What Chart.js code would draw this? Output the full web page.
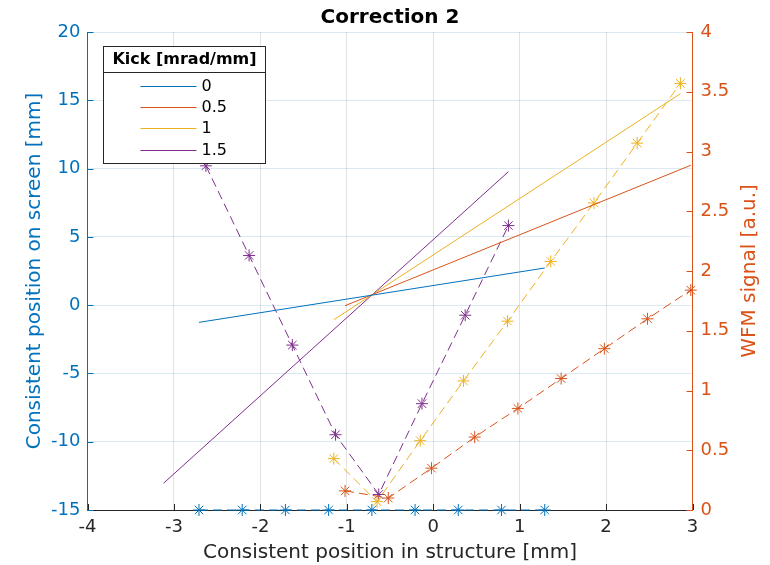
<!DOCTYPE html>
<html>
<head>
<meta charset="utf-8">
<title>Correction 2</title>
<script src="https://cdn.jsdelivr.net/npm/chart.js@4.4.1/dist/chart.umd.min.js"></script>
<style>
  html, body { margin: 0; padding: 0; background: #fff; }
  #wrap { width: 770px; height: 565px; }
</style>
</head>
<body>
<div id="wrap"><canvas id="correction"></canvas></div>
<script>
const kickLabels = ["0", "0.5", "1", "1.5"];
const kickColors = ["#0072BD", "#D95319", "#EDB120", "#7E2F8E"];

// linear fits of screen position (left axis), one per kick
const fitStartX = [-2.71, -1.02, -1.15, -3.12];
const fitEndX = [1.29, 2.98, 2.86, 0.87];
const fitStartY = [-1.26, -0.04, -1.07, -13.04];
const fitEndY = [2.72, 10.24, 15.48, 9.77];

// WFM signal vs position in structure (right axis)
const wfmX0 = [-2.71, -2.21, -1.71, -1.21, -0.71, -0.21, 0.29, 0.79, 1.29];
const wfmY0 = [0, 0, 0, 0, 0, 0, 0, 0, 0];
const wfmX05 = [-1.02, -0.52, -0.02, 0.48, 0.98, 1.48, 1.98, 2.48, 2.98];
const wfmY05 = [0.16, 0.1, 0.35, 0.61, 0.85, 1.1, 1.35, 1.6, 1.84];
const wfmX1 = [-1.15, -0.65, -0.15, 0.35, 0.86, 1.36, 1.86, 2.36, 2.86];
const wfmY1 = [0.43, 0.07, 0.58, 1.08, 1.58, 2.08, 2.57, 3.07, 3.57];
const wfmX15 = [-2.63, -2.13, -1.63, -1.13, -0.63, -0.13, 0.37, 0.87];
const wfmY15 = [2.88, 2.13, 1.38, 0.63, 0.13, 0.89, 1.63, 2.38];

const wfmX = [wfmX0, wfmX05, wfmX1, wfmX15];
const wfmY = [wfmY0, wfmY05, wfmY1, wfmY15];

Chart.defaults.font.family = "'DejaVu Sans', sans-serif";
Chart.defaults.font.size = 18;

const fitSets = kickLabels.map((label, i) => ({
  label: label,
  data: [
    { x: fitStartX[i], y: fitStartY[i] },
    { x: fitEndX[i], y: fitEndY[i] },
  ],
  yAxisID: "y",
  showLine: true,
  borderColor: kickColors[i],
  borderWidth: 1,
  pointRadius: 0,
  fill: false,
}));

const wfmSets = wfmX.map((xs, i) => ({
  label: kickLabels[i] + " WFM",
  data: xs.map((x, j) => ({ x: x, y: wfmY[i][j] })),
  yAxisID: "y1",
  showLine: true,
  borderColor: kickColors[i],
  borderWidth: 1,
  borderDash: [9, 5],
  pointStyle: "star",
  pointRadius: 6,
  pointBorderWidth: 1,
  pointBorderColor: kickColors[i],
  pointBackgroundColor: kickColors[i],
  fill: false,
  clip: false,
}));

// inward tick marks, right axis title and the boxed legend
const matlabLook = {
  id: "matlabLook",
  afterDraw(chart) {
    const ctx = chart.ctx;
    const area = chart.chartArea;
    const { x, y, y1 } = chart.scales;

    ctx.save();
    ctx.lineWidth = 1;
    ctx.strokeStyle = "#262626";
    x.ticks.forEach((t) => {
      const px = Math.round(x.getPixelForValue(t.value)) + 0.5;
      ctx.beginPath();
      ctx.moveTo(px, area.bottom);
      ctx.lineTo(px, area.bottom - 6);
      ctx.stroke();
    });
    ctx.strokeStyle = kickColors[0];
    y.ticks.forEach((t) => {
      const py = Math.round(y.getPixelForValue(t.value)) + 0.5;
      ctx.beginPath();
      ctx.moveTo(area.left, py);
      ctx.lineTo(area.left + 6, py);
      ctx.stroke();
    });
    ctx.strokeStyle = kickColors[1];
    y1.ticks.forEach((t) => {
      const py = Math.round(y1.getPixelForValue(t.value)) + 0.5;
      ctx.beginPath();
      ctx.moveTo(area.right, py);
      ctx.lineTo(area.right - 6, py);
      ctx.stroke();
    });

    // right axis title reads bottom to top
    ctx.translate(750, (area.top + area.bottom) / 2);
    ctx.rotate(-Math.PI / 2);
    ctx.fillStyle = kickColors[1];
    ctx.font = "20px 'DejaVu Sans', sans-serif";
    ctx.textAlign = "center";
    ctx.textBaseline = "middle";
    ctx.fillText("WFM signal [a.u.]", 0, 0);
    ctx.restore();

    // legend
    const left = area.left + 16;
    const top = area.top + 14.5;
    const w = 162;
    const h = 117;
    ctx.save();
    ctx.fillStyle = "#fff";
    ctx.fillRect(left, top, w, h);
    ctx.strokeStyle = "#262626";
    ctx.lineWidth = 1;
    ctx.strokeRect(left, top, w, h);
    ctx.beginPath();
    ctx.moveTo(left, top + 26);
    ctx.lineTo(left + w, top + 26);
    ctx.stroke();
    ctx.fillStyle = "#000";
    ctx.textBaseline = "middle";
    ctx.textAlign = "center";
    ctx.font = "bold 16px 'DejaVu Sans', sans-serif";
    ctx.fillText("Kick [mrad/mm]", left + w / 2, top + 13.5);
    ctx.textAlign = "left";
    ctx.font = "16px 'DejaVu Sans', sans-serif";
    chart.data.datasets.slice(0, kickLabels.length).forEach((ds, i) => {
      const ly = Math.round(top + 39 + i * 21.4) + 0.5;
      ctx.strokeStyle = ds.borderColor;
      ctx.beginPath();
      ctx.moveTo(left + 37, ly);
      ctx.lineTo(left + 93, ly);
      ctx.stroke();
      ctx.fillText(ds.label, left + 98, ly);
    });
    ctx.restore();
  },
};

const ctx = document.getElementById("correction").getContext("2d");
const chart = new Chart(ctx, {
  type: "scatter",
  data: { datasets: [...fitSets, ...wfmSets] },
  plugins: [matlabLook],
  options: {
    responsive: true,
    maintainAspectRatio: false,
    animation: false,
    events: [],
    layout: { padding: 0 },
    plugins: {
      legend: { display: false },
      tooltip: { enabled: false },
      title: {
        display: true,
        text: "Correction 2",
        fullSize: false,
        color: "#000",
        font: { size: 20, weight: "bold" },
        padding: { top: 6, bottom: 2 },
      },
    },
    scales: {
      x: {
        type: "linear",
        min: -4,
        max: 3,
        afterFit: (s) => { s.height = 55; },
        ticks: { stepSize: 1, color: "#262626", padding: 7 },
        grid: { color: "#e2e2e2", drawTicks: false },
        border: { color: "#262626" },
        title: {
          display: true,
          text: "Consistent position in structure [mm]",
          color: "#262626",
          font: { size: 20 },
          padding: { top: 0, bottom: 0 },
        },
      },
      y: {
        type: "linear",
        position: "left",
        min: -15,
        max: 20,
        afterFit: (s) => { s.width = 87.5; },
        ticks: { stepSize: 5, color: "#0072BD", padding: 7 },
        grid: { color: "rgba(0,114,189,0.15)", drawTicks: false },
        border: { color: "#0072BD" },
        title: {
          display: true,
          text: "Consistent position on screen [mm]",
          color: "#0072BD",
          font: { size: 20 },
          padding: { top: 23, bottom: 0 },
        },
      },
      y1: {
        type: "linear",
        position: "right",
        min: 0,
        max: 4,
        afterFit: (s) => { s.width = 77.5; },
        ticks: {
          stepSize: 0.5,
          color: "#D95319",
          padding: 8,
          callback: (value) => String(value),
        },
        grid: { drawOnChartArea: false, drawTicks: false },
        border: { color: "#D95319" },
      },
    },
  },
});
</script>
</body>
</html>
